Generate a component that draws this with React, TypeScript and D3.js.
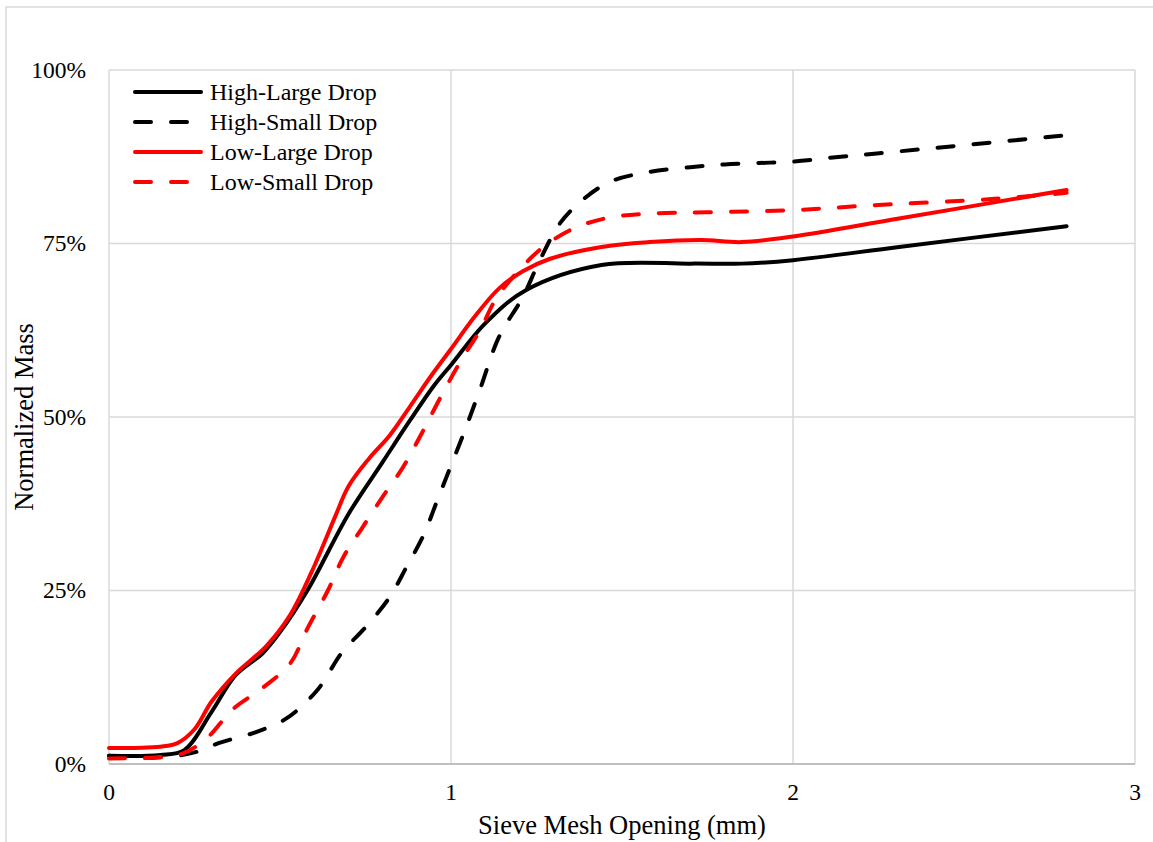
import React from "react";
import * as d3 from "d3";

type Pt = [number, number];

const highLarge: Pt[] = [
  [0, 1.2], [0.15, 1.3], [0.22, 2], [0.3, 7.5], [0.37, 12.8], [0.45, 16], [0.5, 19],
  [0.58, 25], [0.7, 36], [0.8, 43.5], [0.88, 49.5], [0.95, 54.5], [1.0, 57.5], [1.1, 63.5], [1.22, 68.3],
  [1.44, 71.9], [1.7, 72.1], [1.85, 72.1], [2.0, 72.6], [2.31, 74.5], [2.8, 77.5],
];

const highSmall: Pt[] = [
  [0, 1.2], [0.1, 0.9], [0.2, 1.2], [0.26, 1.8], [0.32, 3], [0.43, 4.6], [0.52, 6.6],
  [0.61, 10.7], [0.68, 16], [0.75, 19.7], [0.82, 24], [0.87, 28.4], [0.92, 33],
  [0.96, 38], [1.0, 43], [1.04, 48], [1.085, 54], [1.14, 61.5], [1.21, 67.3],
  [1.26, 72.6], [1.32, 78], [1.39, 81.5], [1.47, 84], [1.58, 85.3], [1.7, 86],
  [1.8, 86.4], [1.9, 86.6], [2.0, 86.8], [2.14, 87.5], [2.23, 87.9], [2.8, 90.6],
];

const lowLarge: Pt[] = [
  [0, 2.3], [0.15, 2.5], [0.2, 3], [0.25, 5], [0.3, 9], [0.37, 13], [0.46, 17],
  [0.53, 21.5], [0.6, 28.5], [0.66, 35.5], [0.7, 40], [0.76, 44], [0.82, 47.3], [0.88, 51.5], [0.94, 55.8],
  [1.0, 59.8], [1.07, 64.5], [1.14, 68.5], [1.21, 71], [1.29, 72.8], [1.44, 74.5], [1.58, 75.2], [1.73, 75.5],
  [1.85, 75.2], [2.0, 76], [2.31, 78.6], [2.8, 82.7],
];

const lowSmall: Pt[] = [
  [0, 0.8], [0.15, 1.0], [0.22, 1.6], [0.29, 3.9], [0.36, 7.8], [0.45, 11], [0.53, 14.5],
  [0.58, 19.5], [0.64, 25], [0.685, 29.8], [0.74, 34], [0.8, 38.5], [0.86, 42.8],
  [0.915, 47.7], [0.97, 52.9], [1.03, 58.2], [1.085, 62.5], [1.13, 66.9], [1.2, 71.2],
  [1.27, 74.5], [1.36, 77.2], [1.46, 78.7], [1.58, 79.3], [1.75, 79.5], [2.0, 79.8],
  [2.23, 80.5], [2.58, 81.4], [2.8, 82.3],
];

const seriesNames = ["High-Large Drop", "High-Small Drop", "Low-Large Drop", "Low-Small Drop"];
const seriesData = [highLarge, highSmall, lowLarge, lowSmall];
const seriesColors = ["#000000", "#000000", "#ff0000", "#ff0000"];
const seriesDashed = [false, true, false, true];

const xTicks = [0, 1, 2, 3];
const yTicks = [0, 25, 50, 75, 100];

export default function App() {
  const W = 1153, H = 842;
  const left = 109, right = 1135, top = 70, bottom = 764;
  const x = d3.scaleLinear().domain([0, 3]).range([left, right]);
  const y = d3.scaleLinear().domain([0, 100]).range([bottom, top]);
  const line = d3
    .line<Pt>()
    .x((d) => x(d[0]))
    .y((d) => y(d[1]))
    .curve(d3.curveCatmullRom.alpha(0.5));
  const font = "'Liberation Serif', 'Times New Roman', serif";

  return (
    <svg
      width={W}
      height={H}
      style={{ position: "absolute", left: 0, top: 0, background: "#fff" }}
      fontFamily={font}
    >
      <rect x={0} y={0} width={W} height={H} fill="#fff" />
      <rect x={6} y={7} width={W + 10} height={H + 10} fill="none" stroke="#d9d9d9" strokeWidth={1.5} />
      {yTicks.map((t) => (
        <line key={"gy" + t} x1={left} x2={right} y1={y(t)} y2={y(t)} stroke="#d9d9d9" strokeWidth={1.5} />
      ))}
      {xTicks.map((t) => (
        <line key={"gx" + t} x1={x(t)} x2={x(t)} y1={top} y2={bottom} stroke="#d9d9d9" strokeWidth={1.5} />
      ))}
      <line x1={left} x2={right} y1={bottom} y2={bottom} stroke="#bfbfbf" strokeWidth={2} />
      {yTicks.map((t) => (
        <text key={"ty" + t} x={86} y={y(t)} dy="0.33em" textAnchor="end" fontSize={23.5} fill="#000">
          {t + "%"}
        </text>
      ))}
      {xTicks.map((t) => (
        <text key={"tx" + t} x={x(t)} y={800} textAnchor="middle" fontSize={23.5} fill="#000">
          {t}
        </text>
      ))}
      <text x={(left + right) / 2} y={834} textAnchor="middle" fontSize={26.5} fill="#000">
        Sieve Mesh Opening (mm)
      </text>
      <text
        transform={`translate(33, ${(top + bottom) / 2}) rotate(-90)`}
        textAnchor="middle"
        fontSize={26.5}
        fill="#000"
      >
        Normalized Mass
      </text>
      {seriesData.map((d, i) => (
        <path
          key={"s" + i}
          d={line(d) || ""}
          fill="none"
          stroke={seriesColors[i]}
          strokeWidth={4}
          strokeDasharray={seriesDashed[i] ? "16 20" : undefined}
          strokeLinecap="round"
          strokeLinejoin="round"
        />
      ))}
      {seriesNames.map((n, i) => {
        const ly = 92 + i * 30;
        return (
          <g key={"lg" + i}>
            <line
              x1={135}
              x2={201}
              y1={ly}
              y2={ly}
              stroke={seriesColors[i]}
              strokeWidth={4}
              strokeDasharray={seriesDashed[i] ? "16 20" : undefined}
              strokeLinecap="round"
            />
            <text x={210} y={ly} dy="0.33em" fontSize={24} fill="#000">
              {n}
            </text>
          </g>
        );
      })}
    </svg>
  );
}
